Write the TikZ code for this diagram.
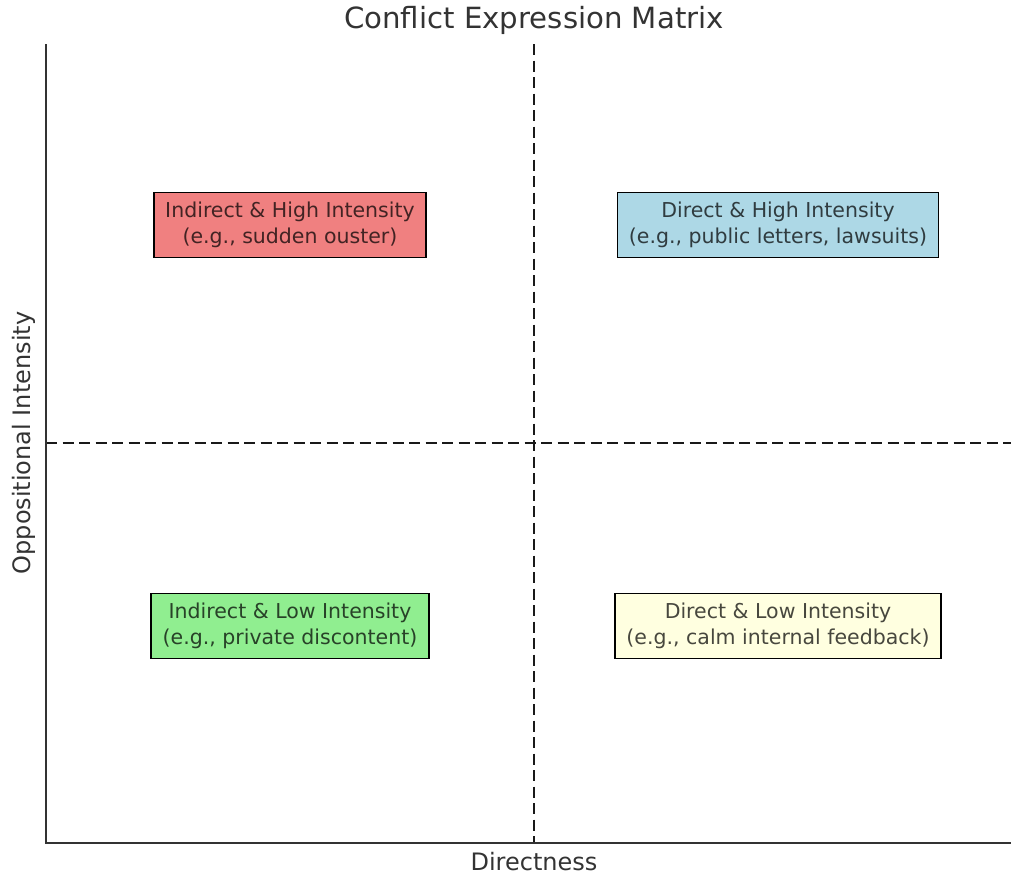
\documentclass[tikz,border=0pt]{standalone}
\usepackage{fontspec}
\setmainfont{DejaVu Sans}
\definecolor{cRed}{HTML}{F08080}
\definecolor{cBlue}{HTML}{ADD8E6}
\definecolor{cGreen}{HTML}{90EE90}
\definecolor{cYellow}{HTML}{FFFFE0}
\definecolor{axisgray}{HTML}{333333}
\begin{document}
\begin{tikzpicture}[x=1pt,y=-1pt,
  quadbox/.style={draw=black, line width=1.6pt, align=center, inner xsep=11.5pt,
    minimum height=65pt, text=black, text opacity=0.72,
    font=\fontsize{20.5}{26}\selectfont},
  divider/.style={line width=2.7pt, black!90, dash pattern=on 11pt off 5.5pt},
  spine/.style={line width=1.6pt, axisgray},
  lbl/.style={text=axisgray, font=\fontsize{24}{28}\selectfont}]
\useasboundingbox (0,0) rectangle (1011,878);
% axes corners
\coordinate (tl) at (46,44);
\coordinate (bl) at (46,843);
\coordinate (br) at (1011,843);
\coordinate (vt) at (534,44);
\coordinate (vb) at (534,843);
\coordinate (hl) at (46,443);
\coordinate (hr) at (1011,443);
% dividers
\draw[divider] (vt) -- (vb);
\draw[divider] (hl) -- (hr);
% spines
\draw[spine] (tl) -- (bl) -- (br);
% boxes
\node[quadbox, fill=cRed] (ih) at (290,225) {Indirect \& High Intensity\\(e.g., sudden ouster)};
\node[quadbox, fill=cBlue] (dh) at (778,225) {Direct \& High Intensity\\(e.g., public letters, lawsuits)};
\node[quadbox, fill=cGreen] (il) at (290,626) {Indirect \& Low Intensity\\(e.g., private discontent)};
\node[quadbox, fill=cYellow] (dl) at (778,626) {Direct \& Low Intensity\\(e.g., calm internal feedback)};
% labels
\node[lbl, font=\fontsize{29.2}{32}\selectfont] (title) at (534,20) {Conflict Expression Matrix};
\node[lbl] (xl) at (534,862) {Directness};
\node[lbl, rotate=90] (yl) at (24,443) {Oppositional Intensity};
\end{tikzpicture}
\end{document}
